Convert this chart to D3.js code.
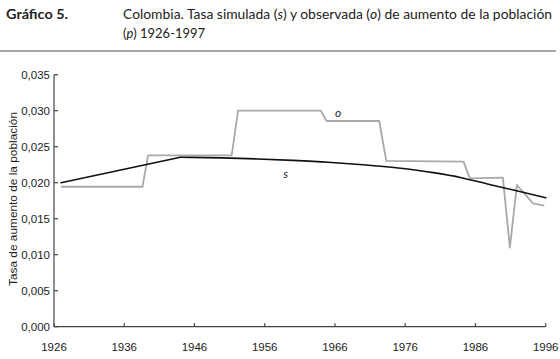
<!DOCTYPE html>
<html><head><meta charset="utf-8">
<script src="https://cdn.jsdelivr.net/npm/d3@7/dist/d3.min.js"></script>
<style>
html,body{margin:0;padding:0;background:#fff;}
svg{display:block;}
</style>
</head><body>
<svg id="chart" width="560" height="359"></svg>
<script>
// ---- data ----
const xTicks = [1926, 1936, 1946, 1956, 1966, 1976, 1986, 1996];
const yTicks = [0, 0.005, 0.010, 0.015, 0.020, 0.025, 0.030, 0.035];
const yTickLabels = ["0,000","0,005","0,010","0,015","0,020","0,025","0,030","0,035"];
// observed rate (o)
const obsYears  = [1927, 1938.6, 1939.4, 1951.3, 1952.2, 1964.0, 1964.8, 1972.3, 1973.3, 1984.3, 1985.2, 1989.9, 1990.9, 1991.9, 1994.2, 1995.8];
const obsValues = [0.01944, 0.01944, 0.0238, 0.0238, 0.0300, 0.0300, 0.02857, 0.02857, 0.02303, 0.02292, 0.0206, 0.0207, 0.01097, 0.01968, 0.01713, 0.0168];
// simulated rate (s)
const simYears  = [1927, 1944, 1950, 1955, 1960, 1965, 1970, 1975, 1980, 1984, 1988, 1992, 1996];
const simValues = [0.0200, 0.02353, 0.02345, 0.02330, 0.02310, 0.02285, 0.02250, 0.02205, 0.02140, 0.02070, 0.01975, 0.01885, 0.01790];

const svg = d3.select("#chart");
const x = d3.scaleLinear().domain([1926, 1996]).range([54, 545.7]);
const y = d3.scaleLinear().domain([0, 0.035]).range([326.7, 74.7]);

const titleFont = "Lato, 'Open Sans', sans-serif";
const axisFont = "'Liberation Sans', Arial, sans-serif";

// ---- title ----
svg.append("text").attr("x", 6).attr("y", 19)
  .attr("font-family", titleFont).attr("font-weight", "bold").attr("font-size", 13)
  .attr("fill", "#222").text("Gráfico 5.")
  .attr("textLength", 62).attr("lengthAdjust", "spacingAndGlyphs");

const t1 = svg.append("text").attr("x", 123).attr("y", 19)
  .attr("font-family", titleFont).attr("font-size", 13).attr("fill", "#222");
[["Colombia. Tasa simulada (", false], ["s", true], [") y observada (", false], ["o", true], [") de aumento de la población", false]]
  .forEach(([s, it]) => t1.append("tspan").attr("font-style", it ? "italic" : "normal").text(s));
t1.attr("textLength", 429).attr("lengthAdjust", "spacingAndGlyphs");

const t2 = svg.append("text").attr("x", 123).attr("y", 38)
  .attr("font-family", titleFont).attr("font-size", 13).attr("fill", "#222");
[["(", false], ["p", true], [") 1926-1997", false]]
  .forEach(([s, it]) => t2.append("tspan").attr("font-style", it ? "italic" : "normal").text(s));
t2.attr("textLength", 82).attr("lengthAdjust", "spacingAndGlyphs");

svg.append("line").attr("x1", 0).attr("x2", 556).attr("y1", 51).attr("y2", 51)
  .attr("stroke", "#8a8a8a").attr("stroke-width", 1.5);

// ---- axes ----
const axisColor = "#444";
const gy = svg.append("g");
gy.append("line").attr("x1", x(1926)).attr("x2", x(1926)).attr("y1", y(0.035)).attr("y2", y(0))
  .attr("stroke", axisColor).attr("stroke-width", 1.2);
gy.selectAll(".yt").data(yTicks).join("line")
  .attr("x1", x(1926)).attr("x2", x(1926) + 4)
  .attr("y1", d => y(d)).attr("y2", d => y(d))
  .attr("stroke", axisColor).attr("stroke-width", 1.2);
gy.selectAll(".yl").data(yTicks).join("text")
  .attr("x", 50).attr("y", d => y(d)).attr("dy", "0.36em")
  .attr("text-anchor", "end").attr("font-family", axisFont).attr("font-size", 11.5)
  .attr("fill", "#222").text((d, i) => yTickLabels[i]);

const gx = svg.append("g");
gx.append("line").attr("x1", x(1926)).attr("x2", x(1996)).attr("y1", y(0)).attr("y2", y(0))
  .attr("stroke", axisColor).attr("stroke-width", 1.2);
gx.selectAll(".xt").data(xTicks).join("line")
  .attr("x1", d => x(d)).attr("x2", d => x(d))
  .attr("y1", y(0)).attr("y2", y(0) - 3.5)
  .attr("stroke", axisColor).attr("stroke-width", 1.2);
gx.selectAll(".xl").data(xTicks).join("text")
  .attr("x", d => x(d)).attr("y", 350.5)
  .attr("text-anchor", "middle").attr("font-family", axisFont).attr("font-size", 11.5)
  .attr("fill", "#222").text(d => d);

svg.append("text").attr("transform", "translate(13,199) rotate(-90)")
  .attr("dy", "0.35em")
  .attr("text-anchor", "middle").attr("font-family", axisFont).attr("font-size", 11)
  .attr("fill", "#222").attr("textLength", 174).attr("lengthAdjust", "spacingAndGlyphs")
  .text("Tasa de aumento de la población");

// ---- lines ----
const obs = obsYears.map((yr, i) => [yr, obsValues[i]]);
const sim = simYears.map((yr, i) => [yr, simValues[i]]);
svg.append("path").datum(obs)
  .attr("d", d3.line().x(d => x(d[0])).y(d => y(d[1])))
  .attr("fill", "none").attr("stroke", "#a9a9a9").attr("stroke-width", 1.8)
  .attr("stroke-linejoin", "round");
// simulated: straight rise to 1944, then smooth decline
const simLine = d3.line().x(d => x(d[0])).y(d => y(d[1]));
svg.append("path").datum(sim.slice(0, 2))
  .attr("d", simLine)
  .attr("fill", "none").attr("stroke", "#111").attr("stroke-width", 1.6)
  .attr("stroke-linecap", "round");
svg.append("path").datum(sim.slice(1))
  .attr("d", simLine.curve(d3.curveMonotoneX))
  .attr("fill", "none").attr("stroke", "#111").attr("stroke-width", 1.6)
  .attr("stroke-linecap", "round");

// ---- series labels ----
svg.append("text").attr("x", 338).attr("y", 112.7).attr("dy", "0.33em")
  .attr("text-anchor", "middle").attr("font-family", titleFont).attr("font-style", "italic")
  .attr("font-size", 12).attr("fill", "#222").text("o");
svg.append("text").attr("x", 285.7).attr("y", 174).attr("dy", "0.33em")
  .attr("text-anchor", "middle").attr("font-family", titleFont).attr("font-style", "italic")
  .attr("font-size", 12).attr("fill", "#222").text("s");
</script>
</body></html>
